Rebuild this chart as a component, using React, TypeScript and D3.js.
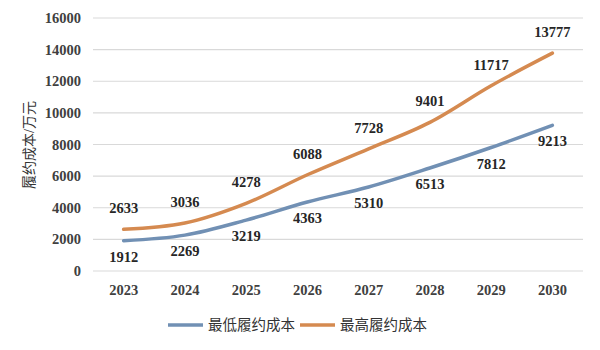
import React, { useEffect, useRef } from "react";
import * as d3 from "d3";

const years = ["2023", "2024", "2025", "2026", "2027", "2028", "2029", "2030"];
const lowCost = [1912, 2269, 3219, 4363, 5310, 6513, 7812, 9213];
const highCost = [2633, 3036, 4278, 6088, 7728, 9401, 11717, 13777];
const yTicks = [0, 2000, 4000, 6000, 8000, 10000, 12000, 14000, 16000];
const seriesNames = ["最低履约成本", "最高履约成本"];

const numFont = "'Liberation Serif', 'Times New Roman', serif";
const cjkFont = "'Liberation Serif', 'Noto Sans CJK SC', serif";

const App = () => {
  const ref = useRef<SVGSVGElement | null>(null);

  useEffect(() => {
    if (!ref.current) return;
    const svg = d3.select(ref.current);
    svg.selectAll("*").remove();

    const width = 600;
    const height = 350;
    const margin = { top: 18, right: 17, bottom: 79, left: 93 };

    svg.attr("width", width).attr("height", height);
    svg.append("rect").attr("width", width).attr("height", height).attr("fill", "#fff");

    const x = d3
      .scaleBand()
      .domain(years)
      .range([margin.left, width - margin.right]);

    const y = d3
      .scaleLinear()
      .domain([0, 16000])
      .range([height - margin.bottom, margin.top]);

    const cx = (i: number) => (x(years[i]) as number) + x.bandwidth() / 2;

    // gridlines
    svg
      .append("g")
      .selectAll("line")
      .data(yTicks)
      .enter()
      .append("line")
      .attr("x1", margin.left)
      .attr("x2", width - margin.right)
      .attr("y1", (d) => y(d))
      .attr("y2", (d) => y(d))
      .attr("stroke", "#d9d9d9")
      .attr("stroke-width", 1.2);

    // y tick labels
    svg
      .append("g")
      .selectAll("text")
      .data(yTicks)
      .enter()
      .append("text")
      .attr("x", 81)
      .attr("y", (d) => y(d))
      .attr("dy", "0.35em")
      .attr("text-anchor", "end")
      .style("font-family", numFont)
      .style("font-weight", "bold")
      .style("font-size", "14.5px")
      .attr("fill", "#404040")
      .text((d) => d);

    // x tick labels
    svg
      .append("g")
      .selectAll("text")
      .data(years)
      .enter()
      .append("text")
      .attr("x", (d, i) => cx(i))
      .attr("y", 290)
      .attr("dy", "0.35em")
      .attr("text-anchor", "middle")
      .style("font-family", numFont)
      .style("font-weight", "bold")
      .style("font-size", "14.5px")
      .attr("fill", "#404040")
      .text((d) => d);

    // axis title
    svg
      .append("text")
      .attr("transform", "translate(29,145) rotate(-90)")
      .attr("text-anchor", "middle")
      .attr("dy", "0.35em")
      .style("font-family", cjkFont)
      .style("font-size", "14px")
      .attr("fill", "#333")
      .text("履约成本/万元");

    const line = d3
      .line<number>()
      .x((d, i) => cx(i))
      .y((d) => y(d))
      .curve(d3.curveMonotoneX);

    const colors = ["#7190b4", "#d58a50"];

    [lowCost, highCost].forEach((vals, s) => {
      svg
        .append("path")
        .datum(vals)
        .attr("fill", "none")
        .attr("stroke", colors[s])
        .attr("stroke-width", 3.5)
        .attr("stroke-linecap", "round")
        .attr("d", line);
    });

    // data labels
    const labelText = (g: any, vals: number[], offset: number) =>
      g
        .selectAll("text")
        .data(vals)
        .enter()
        .append("text")
        .attr("x", (d: number, i: number) => cx(i))
        .attr("y", (d: number) => y(d) + offset)
        .attr("dy", "0.35em")
        .attr("text-anchor", "middle")
        .style("font-family", numFont)
        .style("font-weight", "bold")
        .style("font-size", "14.5px")
        .attr("fill", "#262626")
        .text((d: number) => d);

    labelText(svg.append("g"), highCost, -21);
    labelText(svg.append("g"), lowCost, 16);

    // legend
    const legendX = [168, 300];
    seriesNames.forEach((name, s) => {
      svg
        .append("line")
        .attr("x1", legendX[s])
        .attr("x2", legendX[s] + 35)
        .attr("y1", 325)
        .attr("y2", 325)
        .attr("stroke", colors[s])
        .attr("stroke-width", 3.5);
      svg
        .append("text")
        .attr("x", legendX[s] + 40)
        .attr("y", 325)
        .attr("dy", "0.35em")
        .style("font-family", cjkFont)
        .style("font-size", "14.5px")
        .attr("fill", "#333")
        .text(name);
    });
  }, []);

  return (
    <div style={{ position: "relative", margin: "-8px" }}>
      <svg ref={ref} style={{ display: "block" }} />
    </div>
  );
};

export default App;
